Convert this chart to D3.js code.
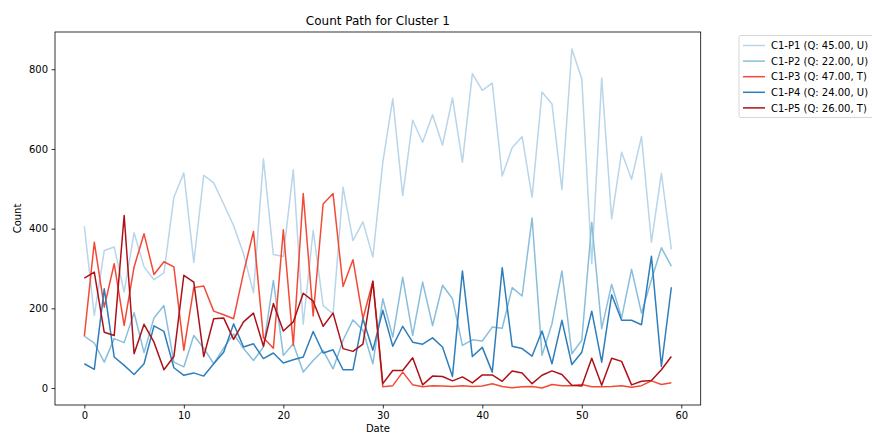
<!DOCTYPE html>
<html><head><meta charset="utf-8">
<script src="https://cdn.jsdelivr.net/npm/d3@7"></script>
<style>body{margin:0;background:#fff}svg{display:block;font-family:"DejaVu Sans",sans-serif}</style>
</head><body><svg id="c" width="872" height="435"></svg>
<script>
const names = ["C1-P1 (Q: 45.00, U)","C1-P2 (Q: 22.00, U)","C1-P3 (Q: 47.00, T)","C1-P4 (Q: 24.00, U)","C1-P5 (Q: 26.00, T)"];
const colors = ["#b8d5ea","#89bedc","#f34a36","#2e7ebc","#ad1118"];
const p1 = [406,182,345,354,241,390,304,272,289,479,540,315,534,515,462,408,337,239,575,335,330,548,160,396,207,186,504,370,417,329,567,726,483,672,617,686,610,728,567,789,747,765,532,603,631,479,743,713,498,851,776,312,778,425,592,524,631,366,539,348];
const p2 = [130,113,65,124,114,189,89,176,207,65,53,132,100,61,100,136,99,69,103,270,82,111,40,69,94,48,120,171,145,61,224,128,278,132,266,157,258,224,107,121,118,153,150,252,231,427,82,161,294,86,120,416,149,260,176,298,188,272,352,306];
const p3 = [130,366,203,312,157,304,387,285,317,304,95,252,256,193,184,174,289,393,126,100,397,107,488,181,462,488,255,322,174,268,3,6,40,8,3,6,5,4,6,4,5,11,4,1,3,4,0,9,6,6,9,3,3,4,6,2,6,18,9,13];
const p4 = [61,47,249,78,57,34,61,156,142,51,32,38,30,61,90,161,103,111,74,88,63,71,78,142,88,96,46,46,174,95,195,105,155,115,110,126,103,29,294,79,102,40,302,105,99,80,143,61,170,59,90,193,65,234,170,170,159,331,54,253];
const p5 = [276,291,140,132,433,86,160,115,46,79,283,266,79,174,176,122,166,188,105,212,143,166,238,218,155,188,99,92,110,268,11,44,44,76,8,30,29,18,28,13,33,33,17,43,38,11,32,43,34,7,5,75,7,75,67,8,17,19,46,79];
const series = [p1,p2,p3,p4,p5];
const xTicks = [0,10,20,30,40,50,60];
const yTicks = [0,200,400,600,800];

const svg = d3.select("#c");
const L=55,R=700.7,T=32,B=405;
const n = p1.length;
const xPad = (n-1)*0.05;
const x = d3.scaleLinear().domain([-xPad, n-1+xPad]).range([L,R]);
const all = series.flat();
const ymin = d3.min(all), ymax = d3.max(all), yPad=(ymax-ymin)*0.05;
const y = d3.scaleLinear().domain([ymin-yPad, ymax+yPad]).range([B,T]);

const line = d3.line().x((d,i)=>x(i)).y(d=>y(d));
const g = svg.append("g");
const cp = svg.append("clipPath").attr("id","clip").append("rect").attr("x",L).attr("y",T).attr("width",R-L).attr("height",B-T);
series.forEach((s,k)=>{
  g.append("path").datum(s).attr("d",line).attr("fill","none").attr("stroke",colors[k]).attr("stroke-width",1.5).attr("stroke-linejoin","round").attr("clip-path","url(#clip)");
});

const xa = svg.append("g").attr("transform",`translate(0,${B})`).call(d3.axisBottom(x).tickValues(xTicks).tickSize(3.5).tickPadding(3.5));
const ya = svg.append("g").attr("transform",`translate(${L},0)`).call(d3.axisLeft(y).tickValues(yTicks).tickSize(3.5).tickPadding(3.5));
[xa,ya].forEach(a=>{a.select(".domain").remove();a.selectAll("text").attr("font-size",10).attr("font-family","DejaVu Sans").attr("fill","#000");a.selectAll("line").attr("stroke","#000").attr("stroke-width",0.8);});
svg.append("rect").attr("x",L).attr("y",T).attr("width",R-L).attr("height",B-T).attr("fill","none").attr("stroke","#000").attr("stroke-width",0.8);

svg.append("text").attr("x",(L+R)/2).attr("y",25).attr("text-anchor","middle").attr("font-size",12).text("Count Path for Cluster 1");
svg.append("text").attr("x",(L+R)/2).attr("y",432).attr("text-anchor","middle").attr("font-size",10).text("Date");
svg.append("text").attr("transform",`translate(21,${(T+B)/2}) rotate(-90)`).attr("text-anchor","middle").attr("font-size",10).text("Count");

const lg = svg.append("g");
lg.append("rect").attr("x",739).attr("y",35.5).attr("width",140).attr("height",82).attr("rx",2).attr("fill","#fff").attr("fill-opacity",0.8).attr("stroke","#ccc").attr("stroke-width",0.8);
names.forEach((nm,k)=>{
  const yy = 45.5 + k*15.6;
  lg.append("line").attr("x1",743).attr("x2",765).attr("y1",yy).attr("y2",yy).attr("stroke",colors[k]).attr("stroke-width",1.5);
  lg.append("text").attr("x",771).attr("y",yy+3.6).attr("font-size",10).text(nm);
});
</script></body></html>
